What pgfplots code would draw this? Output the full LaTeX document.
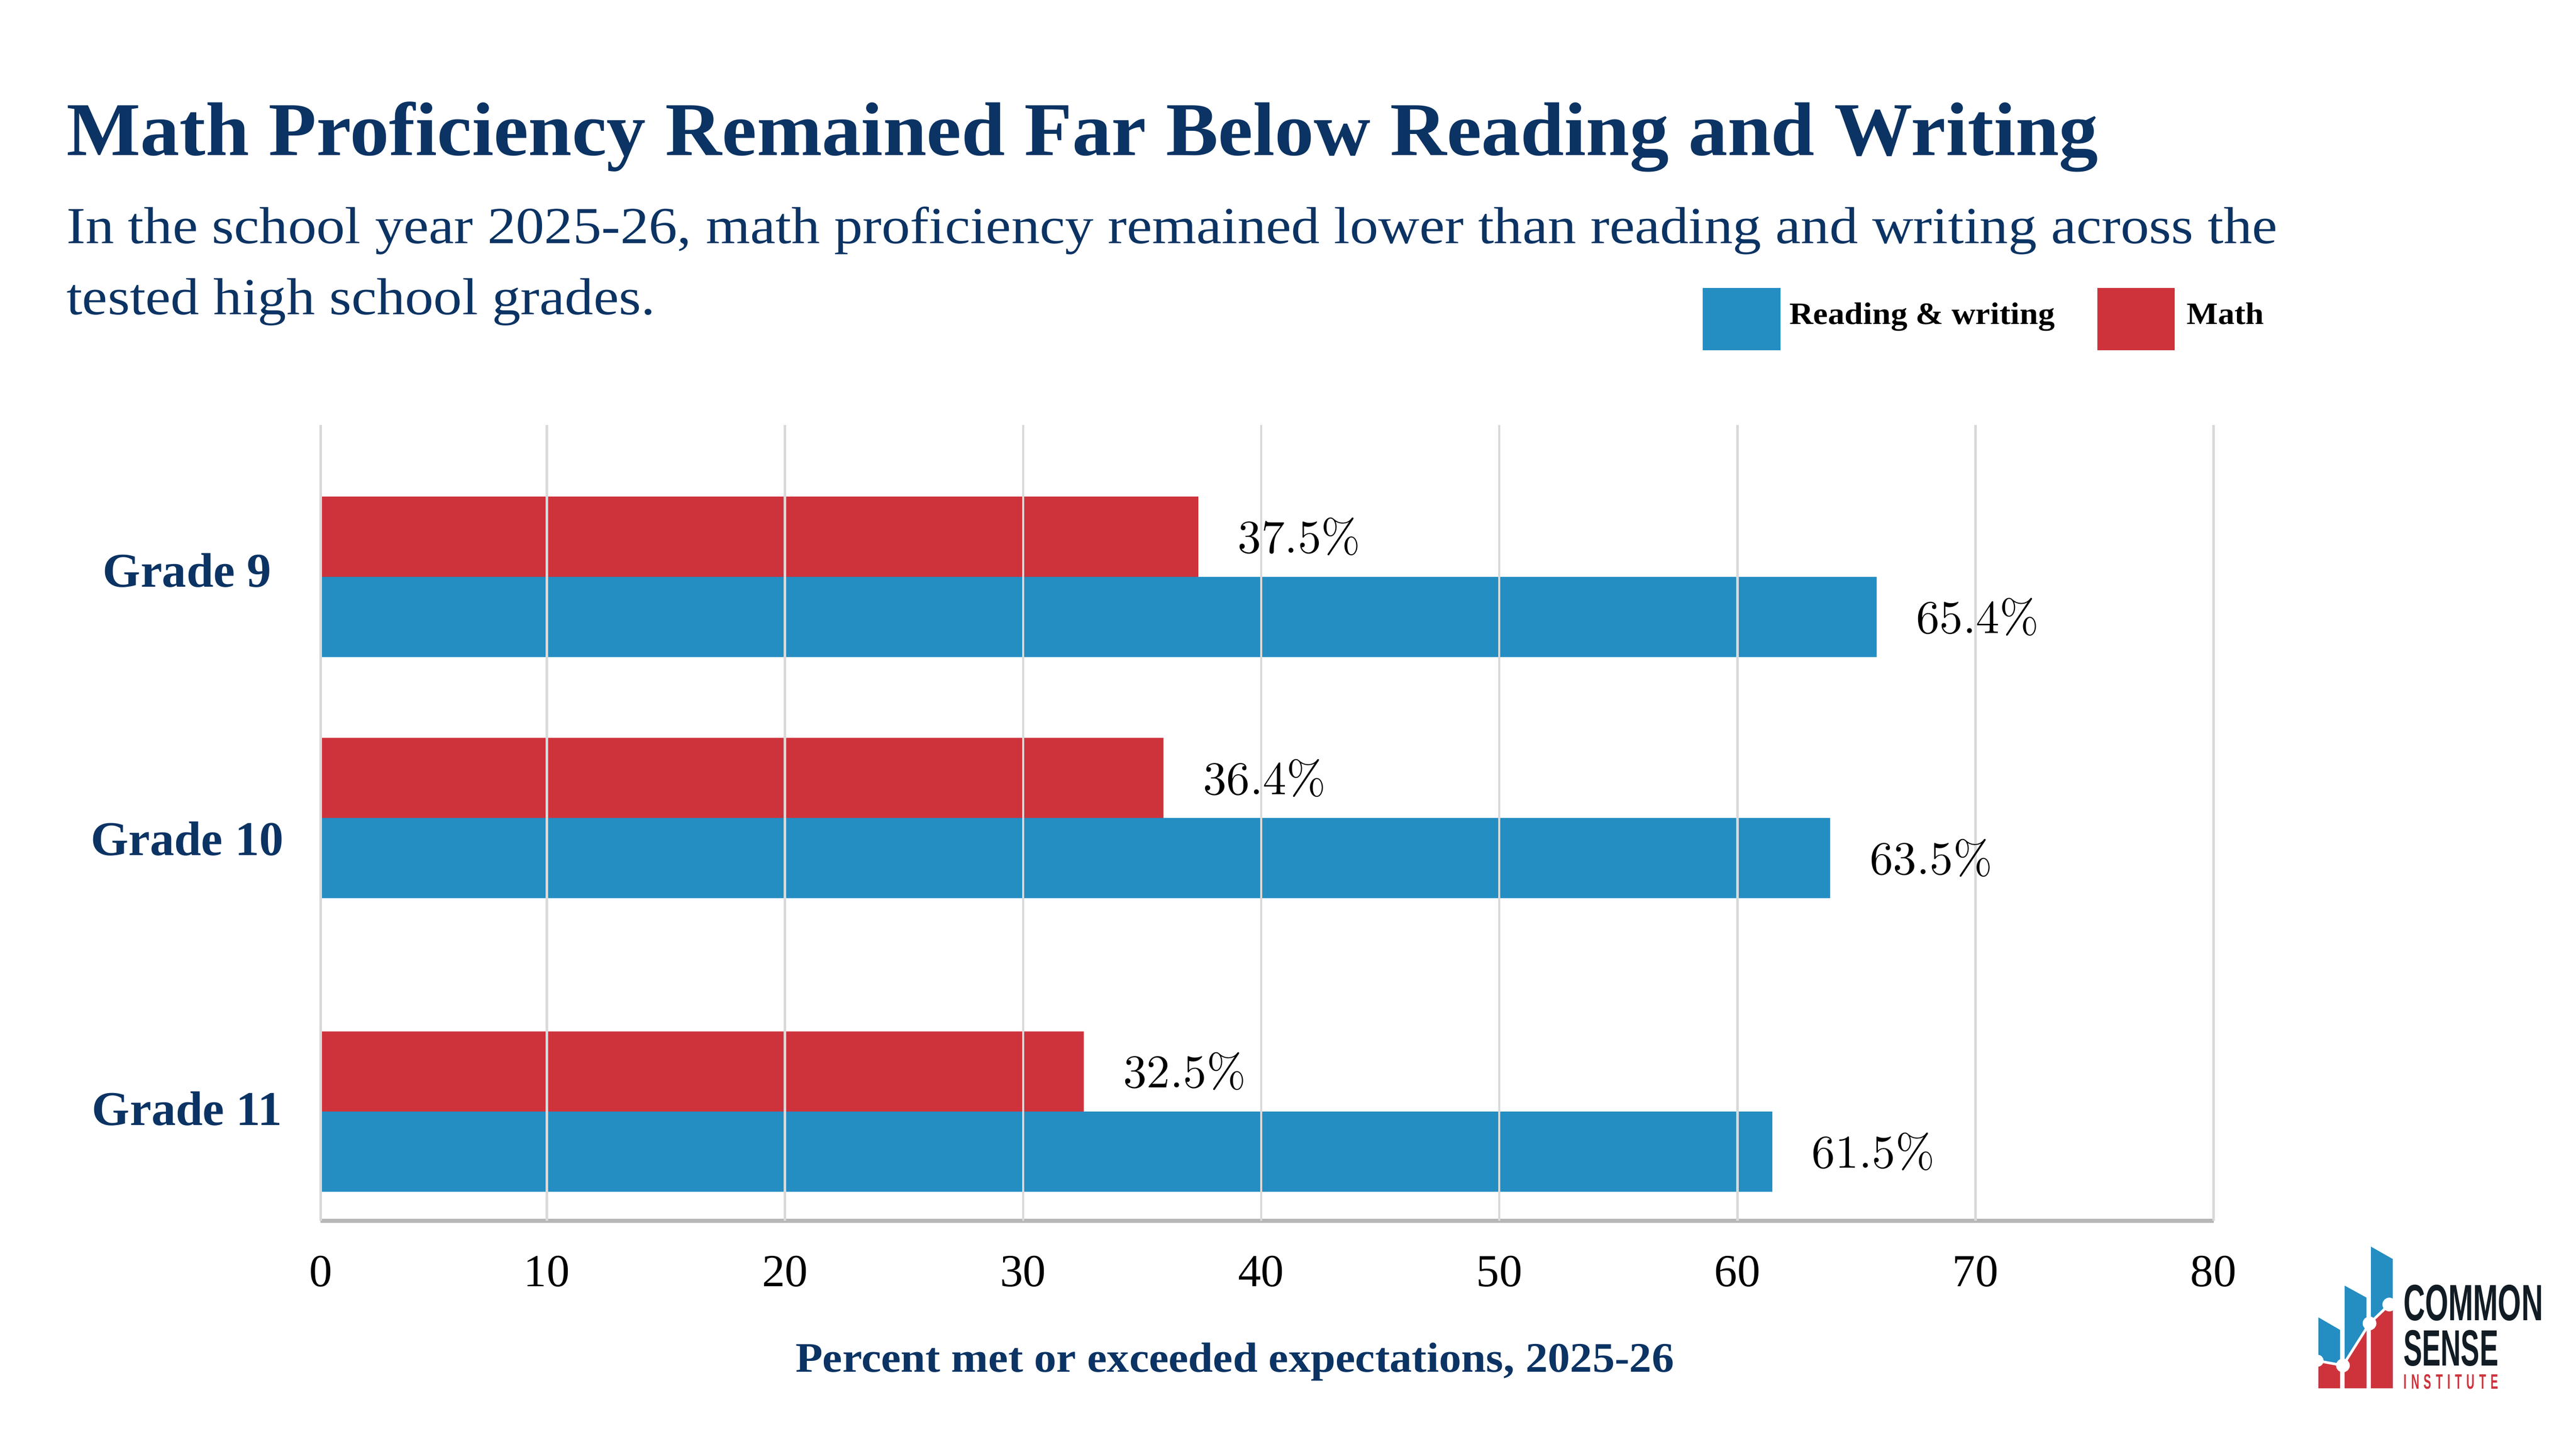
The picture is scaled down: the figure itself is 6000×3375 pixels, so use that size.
\documentclass[border=0pt]{standalone}
\usepackage{pgfplots}
\pgfplotsset{compat=1.18}
\usepackage[no-math]{fontspec}
\setmainfont{Liberation Serif}
\setsansfont{Liberation Sans}
\usepackage{graphicx}
\definecolor{navy}{RGB}{11,51,99}
\definecolor{barblue}{RGB}{36,141,194}
\definecolor{barred}{RGB}{206,51,60}
\definecolor{gridgray}{RGB}{217,217,217}
\definecolor{axisgray}{RGB}{183,183,183}
\definecolor{logodark}{RGB}{18,28,36}

\begin{document}
\begin{tikzpicture}
\begin{scope}[shift={(0pt,337.5pt)}, x=0.1pt, y=-0.1pt]
\path[use as bounding box] (0,0) rectangle (6000,3375);
% title and subtitle
\node[anchor=base west, inner sep=0pt, text=navy, font=\fontsize{17.7}{20}\selectfont\bfseries] at (153,362) {\scalebox{1.031}[1]{Math Proficiency Remained Far Below Reading and Writing}};
\node[anchor=base west, inner sep=0pt, text=navy, font=\fontsize{12.1}{14}\selectfont] at (153,567) {\scalebox{1.097}[1]{In the school year 2025-26, math proficiency remained lower than reading and writing across the}};
\node[anchor=base west, inner sep=0pt, text=navy, font=\fontsize{12.1}{14}\selectfont] at (153,733) {\scalebox{1.097}[1]{tested high school grades.}};
% legend
\fill[barblue] (3966,671) rectangle (4147,816);
\node[anchor=base west, inner sep=0pt, font=\fontsize{7.25}{9}\selectfont\bfseries] at (4166,756) {\scalebox{1.066}[1]{Reading \& writing}};
\fill[barred] (4885,671) rectangle (5065,816);
\node[anchor=base west, inner sep=0pt, font=\fontsize{7.25}{9}\selectfont\bfseries] at (5091,756) {\scalebox{1.066}[1]{Math}};
% category labels
\node[anchor=base, inner sep=0pt, text=navy, font=\fontsize{11.3}{13}\selectfont\bfseries] at (436,1367) {Grade 9};
\node[anchor=base, inner sep=0pt, text=navy, font=\fontsize{11.3}{13}\selectfont\bfseries] at (436,1993) {Grade 10};
\node[anchor=base, inner sep=0pt, text=navy, font=\fontsize{11.3}{13}\selectfont\bfseries] at (436,2621) {Grade 11};
% x title
\node[anchor=base, inner sep=0pt, text=navy, font=\fontsize{9.8}{12}\selectfont\bfseries] at (2876,3196) {\scalebox{1.057}[1]{Percent met or exceeded expectations, 2025-26}};
% logo
\fill[barblue] (5400,3069) -- (5450,3098) -- (5450,3234) -- (5400,3234) -- cycle;
\fill[barblue] (5461,2995) -- (5512,3023) -- (5512,3234) -- (5461,3234) -- cycle;
\fill[barblue] (5522,2904) -- (5573,2933) -- (5573,3234) -- (5522,3234) -- cycle;
\begin{scope}
\clip (5400,3069) -- (5450,3098) -- (5450,3234) -- (5400,3234) -- cycle
      (5461,2995) -- (5512,3023) -- (5512,3234) -- (5461,3234) -- cycle
      (5522,2904) -- (5573,2933) -- (5573,3234) -- (5522,3234) -- cycle;
\fill[barred] (5390,3170) -- (5457,3181) -- (5519,3083) -- (5565,3039) -- (5580,3030) -- (5580,3240) -- (5390,3240) -- cycle;
\end{scope}
\draw[white, line width=0.6pt] (5398,3170) -- (5457,3181) -- (5519,3083) -- (5565,3039) -- (5580,3030);
\fill[white] (5398,3170) circle (14) (5457,3181) circle (16) (5519,3083) circle (16) (5565,3039) circle (16);
\node[anchor=north west, inner sep=0pt, text=logodark] at (5596,2991) {\resizebox{32.5pt}{8.3pt}{\sffamily\bfseries COMMON}};
\node[anchor=north west, inner sep=0pt, text=logodark] at (5596,3097) {\resizebox{22.1pt}{8.3pt}{\sffamily\bfseries SENSE}};
\node[anchor=north west, inner sep=0pt, text=barred] at (5596,3200) {\resizebox{22.1pt}{3.4pt}{\sffamily\bfseries I\hspace{.4em}N\hspace{.4em}S\hspace{.4em}T\hspace{.4em}I\hspace{.4em}T\hspace{.4em}U\hspace{.4em}T\hspace{.4em}E}};
\end{scope}

\begin{axis}[
  at={(74.7pt,53.1pt)}, anchor=south west,
  scale only axis, width=440.9pt, height=185.4pt,
  xmin=0.5, xmax=80, ymin=-2844, ymax=-990,
  xtick={0.5,10,20,30,40,50,60,70,80},
  xticklabels={0,10,20,30,40,50,60,70,80},
  ytick=\empty,
  xmajorgrids,
  major grid style={draw=gridgray, line width=0.55pt},
  axis line style={draw=none},
  major tick length=0pt,
  axis on top,
  clip=false,
  xticklabel style={font=\fontsize{10.7}{12}\selectfont, inner sep=0pt, anchor=north, yshift=-8pt},
  point meta=explicit symbolic,
  nodes near coords={$\pgfplotspointmeta\%$},
  every node near coord/.append style={font=\fontsize{10.5}{12}\selectfont, anchor=west, inner sep=0pt, xshift=9pt, text=black},
]
% Math
\addplot[xbar, bar shift=0pt, bar width=187, fill=barred, draw=none]
  coordinates {(37.36,-1250.5) [37.5] (35.90,-1812.5) [36.4] (32.55,-2496.5) [32.5]};
% Reading & writing
\addplot[xbar, bar shift=0pt, bar width=187, fill=barblue, draw=none]
  coordinates {(65.85,-1437.5) [65.4] (63.90,-1999) [63.5] (61.47,-2683) [61.5]};
\draw[axisgray, line width=0.9pt] (rel axis cs:0,0) -- (rel axis cs:1,0);
\end{axis}
\end{tikzpicture}
\end{document}
